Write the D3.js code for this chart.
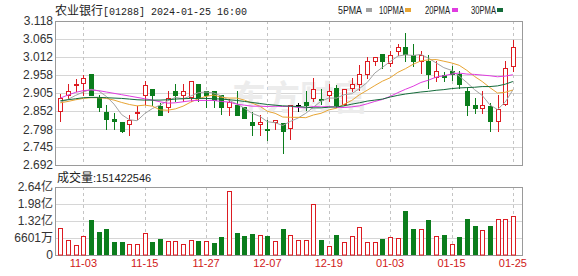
<!DOCTYPE html>
<html>
<head>
<meta charset="utf-8">
<script src="https://cdn.jsdelivr.net/npm/d3@7"></script>
<style>
  body { margin: 0; background: #fff; }
  svg { display: block; font-family: "Liberation Sans", Arial, sans-serif; }
</style>
</head>
<body>
<div class="container"></div>
<script>
// trading days shown (MM-DD)
var dates = ["10-31","11-01","11-02","11-03","11-06","11-07","11-08","11-09","11-10","11-13",
  "11-14","11-15","11-16","11-17","11-20","11-21","11-22","11-23","11-24","11-27",
  "11-28","11-29","11-30","12-01","12-04","12-05","12-06","12-07","12-08","12-11",
  "12-12","12-13","12-14","12-15","12-18","12-19","12-20","12-21","12-22","12-27",
  "12-28","12-29","01-02","01-03","01-04","01-05","01-08","01-09","01-10","01-11",
  "01-12","01-15","01-16","01-17","01-18","01-19","01-22","01-23","01-24","01-25"];

var opens = [2.851,2.898,2.928,2.934,2.961,2.890,2.848,2.829,2.818,2.813,
  2.845,2.900,2.918,2.866,2.863,2.910,2.900,2.892,2.932,2.910,
  2.910,2.898,2.863,2.869,2.863,2.819,2.813,2.799,2.819,2.816,
  2.801,2.869,2.878,2.890,2.888,2.898,2.920,2.872,2.920,2.932,
  2.961,3.001,3.020,2.994,3.030,3.040,3.018,3.001,3.001,2.951,
  2.959,2.971,2.961,2.912,2.869,2.861,2.866,2.821,2.872,2.984];
var highs = [2.902,2.932,2.947,2.959,2.961,2.900,2.869,2.846,2.818,2.839,
  2.866,2.941,2.918,2.875,2.910,2.932,2.932,2.941,2.932,2.912,
  2.910,2.898,2.888,2.912,2.863,2.849,2.841,2.825,2.826,2.816,
  2.869,2.875,2.910,2.949,2.918,2.932,2.930,2.918,2.949,2.989,
  3.011,3.011,3.020,3.028,3.050,3.082,3.050,3.030,3.018,2.999,
  2.967,2.984,2.969,2.920,2.890,2.910,2.875,2.898,2.999,3.063];
var lows = [2.821,2.890,2.912,2.900,2.898,2.851,2.799,2.799,2.790,2.780,
  2.829,2.872,2.869,2.841,2.849,2.880,2.882,2.880,2.882,2.863,
  2.863,2.843,2.841,2.841,2.831,2.780,2.780,2.766,2.799,2.728,
  2.770,2.851,2.856,2.880,2.872,2.880,2.863,2.869,2.910,2.915,
  2.949,2.989,2.979,2.984,3.017,3.001,2.984,2.964,2.920,2.940,
  2.941,2.944,2.920,2.841,2.846,2.846,2.792,2.792,2.869,2.971];
var closes = [2.890,2.910,2.932,2.949,2.900,2.863,2.829,2.821,2.792,2.826,
  2.849,2.930,2.900,2.841,2.890,2.898,2.910,2.941,2.890,2.900,
  2.885,2.863,2.878,2.841,2.831,2.810,2.819,2.797,2.826,2.792,
  2.869,2.869,2.869,2.918,2.885,2.910,2.869,2.918,2.932,2.961,
  2.999,3.011,3.001,3.018,3.040,3.020,3.001,3.018,2.961,2.969,
  2.951,2.961,2.932,2.869,2.861,2.869,2.821,2.859,2.979,3.040];
var prevClose = 2.856;

var volumes = [104800000,57000000,39000000,72500000,136000000,89000000,101000000,49000000,49000000,41500000,
  41500000,84000000,49000000,62000000,53000000,53000000,41500000,57000000,53000000,53000000,
  45400000,70000000,247000000,85400000,72500000,81500000,76400000,73800000,53000000,101000000,
  76400000,57000000,57000000,199000000,57000000,33700000,76400000,49200000,72500000,107400000,
  49200000,49200000,62000000,70000000,64700000,169500000,101000000,101000000,134600000,73800000,
  76400000,41500000,70000000,139800000,111300000,95800000,112600000,139800000,139800000,151422546];

var ma5 = [2.878,2.886,2.898,2.908,2.916,2.911,2.895,2.872,2.841,2.826,
  2.823,2.844,2.859,2.869,2.882,2.892,2.888,2.896,2.906,2.908,
  2.905,2.896,2.883,2.873,2.860,2.845,2.836,2.820,2.817,2.809,
  2.821,2.831,2.845,2.863,2.881,2.890,2.890,2.900,2.903,2.918,
  2.936,2.964,2.981,2.998,3.014,3.018,3.016,3.019,3.008,2.994,
  2.980,2.972,2.955,2.936,2.915,2.898,2.870,2.856,2.878,2.914];
var ma10 = [2.876,2.880,2.885,2.889,2.891,2.891,2.889,2.884,2.877,2.871,
  2.867,2.869,2.866,2.855,2.854,2.858,2.866,2.878,2.888,2.895,
  2.899,2.892,2.890,2.890,2.884,2.875,2.866,2.851,2.845,2.834,
  2.833,2.833,2.832,2.840,2.845,2.855,2.860,2.872,2.883,2.900,
  2.913,2.927,2.940,2.950,2.966,2.977,2.990,3.000,3.003,3.004,
  2.999,2.994,2.987,2.972,2.954,2.939,2.921,2.905,2.907,2.914];
var ma20 = [2.890,2.899,2.907,2.912,2.914,2.912,2.908,2.904,2.900,2.896,
  2.892,2.888,2.884,2.879,2.875,2.876,2.879,2.882,2.883,2.883,
  2.883,2.880,2.878,2.872,2.869,2.866,2.866,2.865,2.866,2.865,
  2.866,2.862,2.861,2.865,2.864,2.865,2.863,2.862,2.864,2.867,
  2.873,2.880,2.886,2.895,2.906,2.916,2.925,2.936,2.943,2.952,
  2.956,2.961,2.964,2.961,2.960,2.958,2.956,2.953,2.955,2.959];
var ma30 = [2.882,2.885,2.888,2.891,2.892,2.892,2.891,2.890,2.889,2.887,
  2.885,2.884,2.884,2.884,2.885,2.887,2.888,2.889,2.889,2.889,
  2.888,2.887,2.885,2.883,2.880,2.877,2.874,2.871,2.869,2.867,
  2.866,2.865,2.863,2.861,2.861,2.863,2.864,2.867,2.872,2.876,
  2.881,2.884,2.887,2.893,2.898,2.902,2.905,2.908,2.910,2.913,
  2.915,2.918,2.920,2.921,2.922,2.924,2.924,2.926,2.931,2.939];

var priceTicks = [2.692,2.745,2.798,2.852,2.905,2.958,3.012,3.065,3.118];
var volTicks = [0,66010000,132020000,198030000,264040000];
var volTickLabels = ["0","6601万","1.32亿","1.98亿","2.64亿"];
var dateTicks = ["11-03","11-15","11-27","12-07","12-19","01-03","01-15","01-25"];
var maNames = ["5PMA","10PMA","20PMA","30PMA"];
var maColors = ["#a3a3a3","#e8a534","#e03ce0","#146b3a"];

var RED = "#dc1c22", GREEN = "#0b7d1c";
var width = 578, height = 276;
var plot = {left: 55, right: 522, top: 21, bottom: 165, vTop: 187, vBottom: 255};

var svg = d3.select(".container").append("svg")
  .attr("width", width).attr("height", height);

var x = d3.scaleBand().domain(dates).range([56.5, 516.7]).padding(0);
var cx = function(d) { return Math.round(x(d) + x.bandwidth() / 2) + 0.5; };
var y = d3.scaleLinear().domain([2.692, 3.118]).range([plot.bottom, plot.top]);
var yv = d3.scaleLinear().domain([0, 264040000]).range([plot.vBottom, plot.vTop]);

// grid lines
svg.append("g").selectAll("line").data(priceTicks).enter().append("line")
  .attr("x1", plot.left).attr("x2", plot.right)
  .attr("y1", d => Math.round(y(d)) + 0.5).attr("y2", d => Math.round(y(d)) + 0.5)
  .style("stroke", "#d6d6d6");
svg.append("g").selectAll("line").data(volTicks).enter().append("line")
  .attr("x1", plot.left).attr("x2", plot.right)
  .attr("y1", d => Math.round(yv(d)) + 0.5).attr("y2", d => Math.round(yv(d)) + 0.5)
  .style("stroke", "#d6d6d6");
[[plot.top, plot.bottom], [plot.vTop, plot.vBottom]].forEach(function(r) {
  svg.append("g").selectAll("line").data(dateTicks).enter().append("line")
    .attr("x1", cx).attr("x2", cx).attr("y1", r[0]).attr("y2", r[1])
    .style("stroke", "#c4c4c4").style("stroke-dasharray", "3,3");
});

// watermark
svg.append("text").attr("x", 232).attr("y", 110)
  .style("font-family", "'Noto Sans CJK SC'").style("font-size", "34px").style("font-weight", "bold")
  .style("fill", "#ececec").text("东方财富");

// frames
svg.append("rect").attr("x", plot.left + 0.5).attr("y", plot.top + 0.5)
  .attr("width", plot.right - plot.left).attr("height", plot.bottom - plot.top)
  .style("fill", "none").style("stroke", "#9a9a9a");
svg.append("rect").attr("x", plot.left + 0.5).attr("y", plot.vTop + 0.5)
  .attr("width", plot.right - plot.left).attr("height", plot.vBottom - plot.vTop)
  .style("fill", "none").style("stroke", "#9a9a9a");

// axes
var yAxis = svg.append("g").attr("transform", "translate(" + plot.left + ",0)")
  .call(d3.axisLeft(y).tickValues(priceTicks).tickFormat(d3.format(".3f")).tickSize(0).tickPadding(2));
var vAxis = svg.append("g").attr("transform", "translate(" + plot.left + ",0)")
  .call(d3.axisLeft(yv).tickValues(volTicks).tickFormat((d, i) => volTickLabels[i]).tickSize(0).tickPadding(2));
var xAxis = svg.append("g").attr("transform", "translate(0," + (plot.vBottom + 4) + ")")
  .call(d3.axisBottom(x).tickValues(dateTicks).tickSize(0).tickPadding(0));
[yAxis, vAxis, xAxis].forEach(function(a) {
  a.select(".domain").remove();
  a.selectAll("text").style("font-family", "'Liberation Sans', 'Noto Sans CJK SC', sans-serif");
});
yAxis.selectAll("text").style("font-size", "12px").style("fill", "#333");
vAxis.selectAll("text").style("font-size", "12px").style("fill", "#333");
xAxis.selectAll("text").style("font-size", "11px").style("fill", "#d01818");

var idx = d3.range(dates.length);

// candles
var candles = svg.append("g").selectAll("g").data(idx).enter().append("g");
var colorOf = function(i) {
  return closes[i] > opens[i] ? RED : (closes[i] < opens[i] ? GREEN : "#000");
};
candles.append("line")
  .attr("x1", i => cx(dates[i])).attr("x2", i => cx(dates[i]))
  .attr("y1", i => Math.round(y(highs[i]))).attr("y2", i => Math.round(y(lows[i])) + 1)
  .style("stroke", colorOf);
candles.append("rect")
  .attr("x", i => closes[i] > opens[i] ? cx(dates[i]) - 2 : cx(dates[i]) - 2.5)
  .attr("y", function(i) {
    var t = Math.round(y(Math.max(opens[i], closes[i])));
    return closes[i] > opens[i] ? t + 0.5 : t;
  })
  .attr("width", i => closes[i] > opens[i] ? 4 : 5)
  .attr("height", function(i) {
    var t = Math.round(y(Math.max(opens[i], closes[i])));
    var b = Math.round(y(Math.min(opens[i], closes[i])));
    return closes[i] > opens[i] ? Math.max(b - t, 1) : Math.max(b - t + 1, 1);
  })
  .style("fill", i => closes[i] > opens[i] ? "#fff" : colorOf(i))
  .style("stroke", i => closes[i] > opens[i] ? RED : "none");

// moving averages
var maSeries = [ma5, ma10, ma20, ma30];
maSeries.forEach(function(s, k) {
  svg.append("path")
    .datum(idx)
    .attr("d", d3.line().x(i => x(dates[i]) + x.bandwidth() / 2).y(i => y(s[i])))
    .style("fill", "none").style("stroke", maColors[k]).style("stroke-width", 1);
});

// volume bars, coloured by change from previous close
var volUp = function(i) { return closes[i] >= (i === 0 ? prevClose : closes[i - 1]); };
svg.append("g").selectAll("rect").data(idx).enter().append("rect")
  .attr("x", i => volUp(i) ? cx(dates[i]) - 2 : cx(dates[i]) - 2.5)
  .attr("y", i => Math.round(yv(volumes[i])) + (volUp(i) ? 0.5 : 0))
  .attr("width", i => volUp(i) ? 4 : 5)
  .attr("height", i => plot.vBottom - Math.round(yv(volumes[i])) - (volUp(i) ? 0.5 : 0))
  .style("fill", i => volUp(i) ? "#fff" : GREEN)
  .style("stroke", i => volUp(i) ? RED : "none");

// title
var title = svg.append("text").attr("x", 55).attr("y", 15).style("fill", "#222");
title.append("tspan").style("font-family", "'Noto Sans CJK SC'").style("font-size", "12px").text("农业银行");
title.append("tspan").style("font-family", "'Liberation Mono'").style("font-size", "10px").text("[01288] 2024-01-25 16:00");

// legend
var legX = [338, 379, 425, 471], legSq = [366, 405, 452, 497];
maNames.forEach(function(n, k) {
  svg.append("text").attr("x", legX[k]).attr("y", 14)
    .attr("textLength", n.length === 4 ? 24 : 25).attr("lengthAdjust", "spacingAndGlyphs")
    .style("font-family", "'Liberation Sans'").style("font-size", "10px").style("fill", "#222")
    .text(n);
  svg.append("rect").attr("x", legSq[k]).attr("y", 8).attr("width", 6).attr("height", 4)
    .style("fill", maColors[k]);
});

// volume label
var vl = svg.append("text").attr("x", 57).attr("y", 182).style("fill", "#222");
vl.append("tspan").style("font-family", "'Noto Sans CJK SC'").style("font-size", "12px").text("成交量");
vl.append("tspan").style("font-family", "'Liberation Sans'").style("font-size", "11px")
  .text(":" + volumes[volumes.length - 1]);
</script>
</body>
</html>
